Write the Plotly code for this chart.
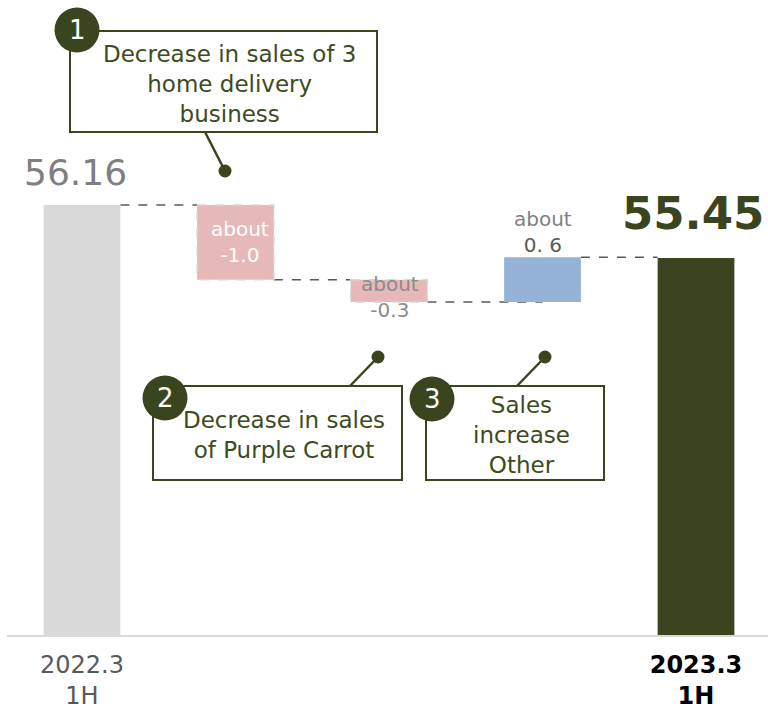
import plotly.graph_objects as go

# ---- data -------------------------------------------------------------
categories = ["2022.3 1H", "3 home delivery", "Purple Carrot", "Other", "2023.3 1H"]
start_value = 56.16
changes = [-1.0, -0.3, 0.6]
end_value = 55.45
change_labels = ["about<br>-1.0", "about<br>-0.3", "about<br>0. 6"]
tick_labels = ["2022.3<br>1H", "", "", "", "<span style='color:#000000'><b>2023.3<br>1H</b></span>"]
callout_texts = [
    "Decrease in sales of 3<br>home delivery<br>business",
    "Decrease in sales<br>of Purple Carrot",
    "Sales<br>increase<br>Other",
]

# ---- styling ----------------------------------------------------------
OLIVE = "#3a4520"
TEXT_OLIVE = "#3d4b22"
GREY_BAR = "#d9d9d9"
PINK = "#e6b9b8"
BLUE = "#95b3d7"
FONT = "DejaVu Sans"
BAR_W = 0.5

# running levels of the waterfall
levels = [start_value]
for c in changes:
    levels.append(round(levels[-1] + c, 4))

xs = list(range(len(categories)))
fig = go.Figure()

# totals
fig.add_trace(go.Bar(x=[xs[0]], y=[start_value], base=[0], width=BAR_W,
                     marker=dict(color=GREY_BAR, line=dict(width=0)),
                     hoverinfo="skip"))
fig.add_trace(go.Bar(x=[xs[-1]], y=[end_value], base=[0], width=BAR_W,
                     marker=dict(color=OLIVE, line=dict(width=0)),
                     hoverinfo="skip"))

# changes
for i, c in enumerate(changes):
    colour = PINK if c < 0 else BLUE
    fig.add_trace(go.Bar(x=[xs[i + 1]], y=[c], base=[levels[i]], width=BAR_W,
                         marker=dict(color=colour, line=dict(width=0)),
                         hoverinfo="skip"))

shapes = []
# dashed outline on the decreases
for i, c in enumerate(changes):
    if c < 0:
        shapes.append(dict(type="rect", xref="x", yref="y",
                           x0=xs[i + 1] - BAR_W / 2, x1=xs[i + 1] + BAR_W / 2,
                           y0=levels[i], y1=levels[i + 1],
                           line=dict(color="#d6d6d6", width=1.5, dash="dash"),
                           layer="above"))

# dashed connectors between steps
for i in range(len(levels)):
    x_end = xs[i + 1] - BAR_W / 2
    if i == 2:
        x_end = xs[i + 1]
    shapes.append(dict(type="line", xref="x", yref="y",
                       x0=xs[i] + BAR_W / 2, x1=x_end,
                       y0=levels[i], y1=levels[i],
                       line=dict(color="#595959", width=1.5, dash="dash"),
                       layer="below"))

# ---- pixel helpers for the call-out boxes ----------------------------
L_MARGIN, PLOT_W, PLOT_H = 7, 761, 635


def px(xp):
    return (xp - L_MARGIN) / PLOT_W


def py(yp):
    return (PLOT_H - yp) / PLOT_H


annotations = []

# call-out boxes: (box x0, y0, x1, y1), badge centre, leader start, leader dot
callouts = [
    ((70, 31, 377, 132), (77, 30), (205, 132), (225, 171)),
    ((153, 386, 402, 480), (165, 398), (350, 386), (378, 357)),
    ((426, 386, 604, 480), (432, 399), (517, 386), (545, 357)),
]
for n, ((bx0, by0, bx1, by1), (cx, cy), (lx, ly), (dx, dy)) in enumerate(callouts):
    shapes.append(dict(type="line", xref="paper", yref="paper",
                       x0=px(lx), y0=py(ly), x1=px(dx), y1=py(dy),
                       line=dict(color=OLIVE, width=2.5)))
    r = 6.5
    shapes.append(dict(type="circle", xref="paper", yref="paper",
                       x0=px(dx - r), x1=px(dx + r), y0=py(dy + r), y1=py(dy - r),
                       fillcolor=OLIVE, line=dict(color=OLIVE, width=0)))
    shapes.append(dict(type="rect", xref="paper", yref="paper",
                       x0=px(bx0), x1=px(bx1), y0=py(by1), y1=py(by0),
                       fillcolor="white", line=dict(color=OLIVE, width=2)))
    R = 22.5
    shapes.append(dict(type="circle", xref="paper", yref="paper",
                       x0=px(cx - R), x1=px(cx + R), y0=py(cy + R), y1=py(cy - R),
                       fillcolor=OLIVE, line=dict(color=OLIVE, width=0)))
    annotations.append(dict(xref="paper", yref="paper", x=px(cx), y=py(cy),
                            text=str(n + 1), showarrow=False,
                            font=dict(family=FONT, size=26, color="white"),
                            xanchor="center", yanchor="middle"))
    annotations.append(dict(xref="paper", yref="paper",
                            x=px((bx0 + bx1) / 2 + 6), y=py((by0 + by1) / 2 + 2),
                            text=callout_texts[n], showarrow=False,
                            font=dict(family=FONT, size=23, color=TEXT_OLIVE),
                            xanchor="center", yanchor="middle", align="center"))

# total value labels
annotations.append(dict(xref="x", yref="y", x=xs[0], y=start_value,
                        text=f"{start_value:.2f}", showarrow=False,
                        font=dict(family=FONT, size=36, color="#7f7f7f"),
                        xanchor="center", yanchor="bottom", xshift=-7, yshift=10))
annotations.append(dict(xref="x", yref="y", x=xs[-1], y=end_value,
                        text=f"<b>{end_value:.2f}</b>", showarrow=False,
                        font=dict(family=FONT, size=45, color=OLIVE),
                        xanchor="center", yanchor="bottom", xshift=-3, yshift=16))

# change labels
for i, c in enumerate(changes):
    mid = (levels[i] + levels[i + 1]) / 2
    if c < 0 and abs(c) >= 0.5:
        annotations.append(dict(xref="x", yref="y", x=xs[i + 1], y=mid,
                                text=change_labels[i], showarrow=False,
                                font=dict(family=FONT, size=20, color="white"),
                                xanchor="center", yanchor="middle", xshift=4))
    elif c < 0:
        annotations.append(dict(xref="x", yref="y", x=xs[i + 1], y=mid,
                                text=change_labels[i], showarrow=False,
                                font=dict(family=FONT, size=20, color="#8c8c8c"),
                                xanchor="center", yanchor="middle", xshift=1, yshift=-6))
    else:
        first, second = change_labels[i].split("<br>")
        annotations.append(dict(xref="x", yref="y", x=xs[i + 1], y=levels[i + 1],
                                text=f"{first}<br><span style='color:#595959'>{second}</span>",
                                showarrow=False,
                                font=dict(family=FONT, size=20, color="#7f7f7f"),
                                xanchor="center", yanchor="bottom", yshift=-2))

fig.update_layout(
    width=768, height=711,
    margin=dict(l=L_MARGIN, r=0, t=0, b=76),
    paper_bgcolor="white", plot_bgcolor="white",
    showlegend=False, barmode="overlay",
    shapes=shapes, annotations=annotations,
    xaxis=dict(range=[-0.4886, 4.469], tickvals=xs, ticktext=tick_labels,
               showgrid=False, zeroline=False, showline=True,
               linecolor="#d9d9d9", linewidth=2, ticks="",
               ticklabelstandoff=7, automargin=False,
               tickfont=dict(family=FONT, size=24, color="#595959")),
    yaxis=dict(range=[50.40, 58.906], visible=False, showgrid=False,
               zeroline=False, automargin=False),
)

fig.write_html("out.html")
